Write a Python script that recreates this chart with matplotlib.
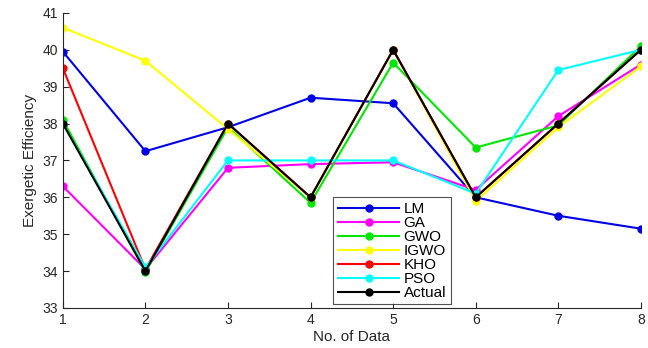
import matplotlib
matplotlib.use("Agg")
import matplotlib.pyplot as plt

plt.rcParams['font.family'] = ['Liberation Sans', 'DejaVu Sans']

x = [1, 2, 3, 4, 5, 6, 7, 8]
lm = [39.95, 37.25, 37.9, 38.7, 38.55, 36.0, 35.5, 35.15]
ga = [36.3, 34.05, 36.8, 36.9, 36.95, 36.2, 38.2, 39.6]
gwo = [38.1, 33.98, 37.9, 35.85, 39.65, 37.35, 37.95, 40.1]
igwo = [40.6, 39.7, 37.85, 36.0, 40.0, 35.9, 37.9, 39.55]
kho = [39.5, 34.05, 38.0, 36.0, 40.0, 36.0, 38.0, 40.0]
pso = [38.0, 34.1, 37.0, 37.0, 37.0, 36.1, 39.45, 40.0]
actual = [38.0, 34.0, 38.0, 36.0, 40.0, 36.0, 38.0, 40.0]

series = [
    ('LM', lm, '#0000e6'),
    ('GA', ga, '#ff00ff'),
    ('GWO', gwo, '#00e600'),
    ('IGWO', igwo, '#ffff00'),
    ('KHO', kho, '#ff0000'),
    ('PSO', pso, '#00ffff'),
    ('Actual', actual, '#000000'),
]

fig = plt.figure(figsize=(6.48, 3.48), dpi=100)
ax = fig.add_axes([0.097, 0.115, 0.892, 0.848])

for name, vals, col in series:
    ax.plot(x, vals, '-o', color=col, lw=1.5, ms=5, label=name)

ax.set_xlim(1, 8)
ax.set_ylim(33, 41)
ax.set_xticks(x)
ax.set_yticks(range(33, 42))
ax.spines['top'].set_visible(False)
ax.spines['right'].set_visible(False)
for s in ['left', 'bottom']:
    ax.spines[s].set_color('#262626')
ax.tick_params(direction='in', labelsize=10, colors='#262626', length=4)
ax.set_xlabel('No. of Data', fontsize=11, color='#262626', labelpad=2)
ax.set_ylabel('Exergetic Efficiency', fontsize=11, color='#262626', labelpad=4)

leg = ax.legend(loc='lower left', bbox_to_anchor=(0.468, 0.012), fontsize=11,
                frameon=True, fancybox=False, edgecolor='#262626',
                handlelength=4.0, labelspacing=0.0, borderpad=0.3,
                handletextpad=0.3, borderaxespad=0)
leg.get_frame().set_linewidth(0.8)

fig.savefig('out.png', dpi=100, facecolor='white')
